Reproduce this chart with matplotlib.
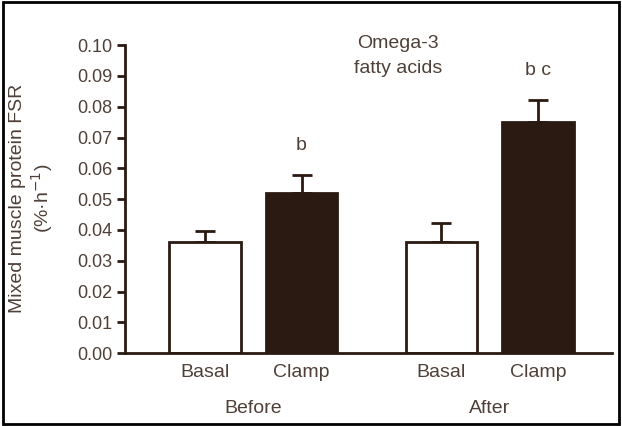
import matplotlib
matplotlib.use("Agg")
import matplotlib.pyplot as plt
from matplotlib.patches import Rectangle

# data
conditions = ['Basal', 'Clamp', 'Basal', 'Clamp']
periods = ['Before', 'After']
fsr = [0.036, 0.052, 0.036, 0.075]
sem = [0.0035, 0.006, 0.0062, 0.0072]
letters = ['', 'b', '', 'b c']
fills = ['white', '#2a1a12', 'white', '#2a1a12']

dark = '#2a1a12'
txt = '#4e4038'
plt.rcParams['font.family'] = ['Liberation Sans', 'DejaVu Sans']

xpos = [1, 2, 3.45, 4.45]

fig = plt.figure(figsize=(6.22, 4.26), dpi=100)
ax = fig.add_axes([0.201, 0.171, 0.783, 0.723])

ax.bar(xpos, fsr, width=0.74, color=fills, edgecolor=dark, linewidth=2, zorder=2)
ax.errorbar(xpos, fsr, yerr=[[0] * 4, sem], fmt='none', ecolor=dark,
            elinewidth=2, capsize=7, capthick=2, zorder=1)

for x, v, s, lab in zip(xpos, fsr, sem, letters):
    if lab:
        ax.text(x, v + s + 0.0095, lab, ha='center', va='center', fontsize=14, color=txt)

ax.text(3.0, 0.1006, 'Omega-3', ha='center', va='center', fontsize=14,
        color=txt, clip_on=False)
ax.text(3.0, 0.0925, 'fatty acids', ha='center', va='center', fontsize=14,
        color=txt, clip_on=False)

ax.set_xlim(0.171, 5.218)
ax.set_ylim(0, 0.10)
ax.set_yticks([i / 100 for i in range(11)])
ax.set_yticklabels(['%.2f' % (i / 100) for i in range(11)])
ax.set_xticks(xpos)
ax.set_xticklabels(conditions)
ax.tick_params(axis='y', direction='out', length=6, width=2, color=dark,
               labelsize=13, labelcolor=txt, pad=3)
ax.tick_params(axis='x', length=0, labelsize=14, labelcolor=txt, pad=8)

for p, x in zip(periods, [1.5, 3.95]):
    ax.text(x, -0.0179, p, ha='center', va='center', fontsize=14, color=txt)

fig.text(32 / 622, 0.535, 'Mixed muscle protein FSR\n(%·h$^{-1}$)', rotation=90,
         ha='center', va='center', fontsize=14, color=txt, linespacing=1.15)

for s in ['top', 'right']:
    ax.spines[s].set_visible(False)
for s in ['left', 'bottom']:
    ax.spines[s].set_color(dark)
    ax.spines[s].set_linewidth(2)

# outer frame
fig.patches.append(Rectangle((0.005, 0.005), 0.99, 0.99, transform=fig.transFigure,
                             fill=False, edgecolor='black', linewidth=2))

fig.savefig('out.png', dpi=100)
